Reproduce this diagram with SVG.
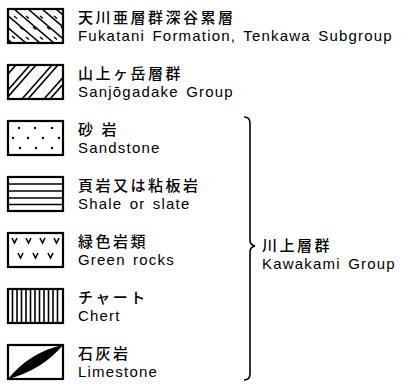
<svg xmlns="http://www.w3.org/2000/svg" width="410" height="386" viewBox="0 0 410 386">
<style>
.bx{fill:#fff;stroke:#000;stroke-width:2.2}
.ln{stroke:#000;stroke-width:1.6;fill:none}
.jp{font-family:"Noto Sans CJK JP","Noto Sans",sans-serif;font-size:15px;font-weight:500;letter-spacing:2.5px;fill:#000}
.en{font-family:"Liberation Sans",Arial,sans-serif;font-size:15px;letter-spacing:1.2px;word-spacing:2px;fill:#000}
</style>
<defs>
<clipPath id="c1"><rect x="8" y="9" width="55" height="34"/></clipPath>
<clipPath id="c2"><rect x="8" y="65" width="55" height="34"/></clipPath>
<clipPath id="c6"><rect x="8" y="289" width="55" height="34"/></clipPath>
</defs>
<g id="fukatani">
<rect class="bx" x="8" y="9" width="55" height="34"/>
<g clip-path="url(#c1)" class="ln">
<path d="M-28 9L12 43M-14 9L26 43M0 9L40 43M14 9L54 43M28 9L68 43M42 9L82 43M56 9L96 43"/>
<path d="M14 16l3 2.5M26 16l3 2.5M40 16l3 2.5M54 16l3 2.5M20 27l3 2.5M33 27l3 2.5M47 27l3 2.5M61 27l3 2.5M12 36l3 2.5M26 37l3 2.5M40 37l3 2.5M54 37l3 2.5" stroke-width="1.4"/>
</g>
<text class="jp" x="78" y="23">天川亜層群深谷累層</text>
<text class="en" x="78" y="41">Fukatani Formation, Tenkawa Subgroup</text>
</g>
<g id="sanjogadake">
<rect class="bx" x="8" y="65" width="55" height="34"/>
<g clip-path="url(#c2)" class="ln">
<path d="M-14 99L16 65M0 99L30 65M6 99L36 65M22 99L52 65M28 99L58 65M44 99L74 65M50 99L80 65"/>
</g>
<text class="jp" x="78" y="79">山上ヶ岳層群</text>
<text class="en" x="78" y="97">Sanjōgadake Group</text>
</g>
<g id="sandstone">
<rect class="bx" x="8" y="121" width="55" height="34"/>
<g fill="#000">
<circle cx="19" cy="128" r="1.2"/><circle cx="35" cy="128" r="1.2"/><circle cx="52" cy="128" r="1.2"/>
<circle cx="13" cy="138" r="1.2"/><circle cx="28" cy="138" r="1.2"/><circle cx="43" cy="138" r="1.2"/><circle cx="59" cy="138" r="1.2"/>
<circle cx="20" cy="148" r="1.2"/><circle cx="36" cy="148" r="1.2"/><circle cx="52" cy="148" r="1.2"/>
</g>
<text class="jp" x="78" y="135">砂 岩</text>
<text class="en" x="78" y="153">Sandstone</text>
</g>
<g id="shale">
<rect class="bx" x="8" y="177" width="55" height="34"/>
<path class="ln" d="M8 184H63M8 191H63M8 198H63M8 204.5H63" stroke-width="2"/>
<text class="jp" x="78" y="191">頁岩又は粘板岩</text>
<text class="en" x="78" y="209">Shale or slate</text>
</g>
<g id="green">
<rect class="bx" x="8" y="233" width="55" height="34"/>
<path class="ln" d="M12 238l2.5 5 2.5-5M26 238l2.5 5 2.5-5M40 238l2.5 5 2.5-5M54 238l2.5 5 2.5-5M18 253l2.5 5 2.5-5M33 253l2.5 5 2.5-5M48 253l2.5 5 2.5-5" stroke-width="1.4"/>
<text class="jp" x="78" y="247">緑色岩類</text>
<text class="en" x="78" y="265">Green rocks</text>
</g>
<g id="chert">
<rect class="bx" x="8" y="289" width="55" height="34"/>
<path class="ln" clip-path="url(#c6)" d="M12.5 289V323M17 289V323M21.5 289V323M26 289V323M30.5 289V323M35 289V323M39.5 289V323M44 289V323M48.5 289V323M53 289V323M57.5 289V323" stroke-width="1.5"/>
<text class="jp" x="78" y="303">チャート</text>
<text class="en" x="78" y="321">Chert</text>
</g>
<g id="limestone">
<rect class="bx" x="8" y="345" width="55" height="34"/>
<path d="M8 379Q30 352 63 345Q42 370 8 379Z" fill="#000"/>
<text class="jp" x="78" y="359">石灰岩</text>
<text class="en" x="78" y="377">Limestone</text>
</g>
<g id="connectors">
<path class="ln" stroke-width="1.5" d="M244 117Q250 117 250 123V240Q250 245 255 246Q250 247 250 252V374Q250 380 244 380"/>
</g>
<g id="kawakami">
<text class="jp" x="262" y="251">川上層群</text>
<text class="en" x="262" y="269">Kawakami Group</text>
</g>
</svg>
